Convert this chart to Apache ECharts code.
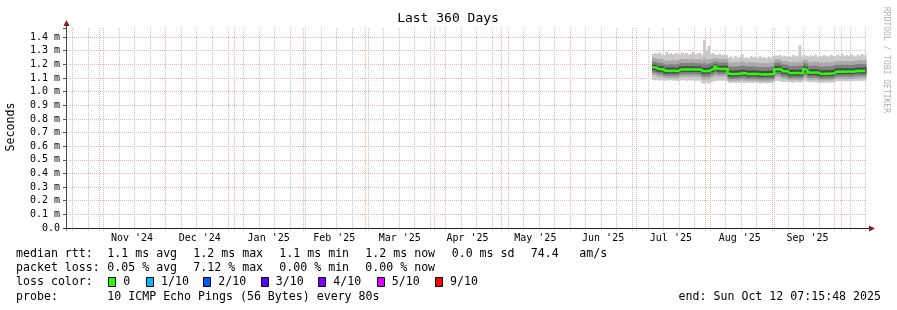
<!DOCTYPE html>
<html><head><meta charset="utf-8">
<script src="https://cdn.jsdelivr.net/npm/echarts@6/dist/echarts.min.js"></script>
<style>html,body{margin:0;padding:0;background:#fff}#c{width:897px;height:310px}</style>
</head><body><div id="c"></div>
<script>
// ---------------- data ----------------
const title = 'Last 360 Days';
const yTitle = 'Seconds';
const endTime = '2025-10-12T07:15:48Z';
const spanDays = 360;
const firstDataDay = '2025-07-08';
const firstSunday = '2024-10-20';
const monthStarts = ['2024-11-01','2024-12-01','2025-01-01','2025-02-01','2025-03-01','2025-04-01',
  '2025-05-01','2025-06-01','2025-07-01','2025-08-01','2025-09-01','2025-10-01'];
const monthLabels = ["Nov '24","Dec '24","Jan '25","Feb '25","Mar '25","Apr '25",
  "May '25","Jun '25","Jul '25","Aug '25","Sep '25"];
const yMax = 1.4667;
const yStep = 0.1;

// daily values in ms, from firstDataDay on
const median = [1.178,1.176, 1.166,1.165,1.165, 1.154,1.153,1.152,1.153,1.154,1.152,1.153,
  1.162,1.163,1.163,1.164,1.162,1.163,1.164,1.163,1.162,1.163, 1.151,1.150,1.151,1.152,
  1.162,1.165,1.182, 1.167,1.166,1.166,1.167,1.166,
  1.131,1.130,1.129,1.130,1.131,1.132,1.137,1.135,1.130,1.129,1.130,1.131,1.130,1.129,1.127,1.126,1.127,1.126,1.127,1.128,1.130,
  1.165,1.166,1.164, 1.150,1.149,1.150, 1.136,1.135,1.136,1.137,1.136,1.135,1.136,
  1.166,1.158, 1.140,1.139,1.140,1.141,1.139, 1.131,1.130,1.132,1.133,1.132,1.133,1.134,
  1.146,1.147,1.146,1.147,1.146,1.148,1.147,1.146,1.147, 1.151,1.152,1.153,1.152,1.153,1.154];
const pingMax = [1.275,1.282,1.278,1.286,1.270,1.268,1.290,1.276,1.281,1.272,1.284,1.279,1.270,1.288,1.275,
  1.283,1.271,1.279,1.292,1.274,1.281,1.286,1.270,1.380,1.300,1.335,1.276,1.281,1.272,
  1.270,1.278,1.266,1.273,1.268,
  1.250,1.258,1.244,1.262,1.248,1.255,1.276,1.247,1.252,1.243,1.260,1.251,1.256,1.246,1.262,1.249,1.254,1.244,1.258,1.250,1.262,
  1.266,1.262,1.270,1.258,1.264,1.256,
  1.262,1.255,1.268,1.259,1.264,1.340,1.258,1.270,1.262,1.257,1.266,1.260,1.272,1.255,1.263,1.258,1.268,1.261,
  1.256,1.270,1.264,1.259,1.272,1.263,1.278,1.260,1.268,1.262,1.274,1.265,1.258,1.271,1.264,1.276,1.266,1.280];
const hi3 = [1.248,1.246, 1.240,1.238,1.239, 1.228,1.226,1.229,1.227,1.230,1.226,1.228,
  1.235,1.238,1.236,1.239,1.235,1.237,1.240,1.236,1.234,1.238, 1.232,1.250,1.228,1.240,
  1.236,1.240,1.246, 1.240,1.238,1.239,1.241,1.237,
  1.215,1.213,1.211,1.216,1.214,1.217,1.222,1.218,1.213,1.212,1.215,1.216,1.212,1.211,1.209,1.208,1.211,1.208,1.210,1.212,1.214,
  1.236,1.238,1.235, 1.226,1.224,1.225, 1.216,1.213,1.217,1.218,1.215,1.222,1.216,
  1.236,1.232, 1.218,1.216,1.219,1.220,1.217, 1.213,1.211,1.214,1.215,1.213,1.216,1.217,
  1.222,1.225,1.222,1.226,1.223,1.226,1.224,1.222,1.225, 1.227,1.229,1.230,1.228,1.231,1.232];
const hi2 = [1.222,1.220, 1.212,1.210,1.211, 1.200,1.198,1.199,1.201,1.200,1.198,1.200,
  1.208,1.210,1.209,1.211,1.208,1.210,1.211,1.209,1.207,1.210, 1.200,1.212,1.198,1.205,
  1.210,1.214,1.222, 1.214,1.212,1.213,1.215,1.212,
  1.185,1.183,1.182,1.185,1.186,1.187,1.192,1.189,1.184,1.183,1.185,1.186,1.183,1.182,1.180,1.179,1.181,1.179,1.180,1.182,1.184,
  1.212,1.214,1.211, 1.200,1.198,1.199, 1.188,1.186,1.188,1.189,1.187,1.192,1.188,
  1.212,1.206, 1.190,1.189,1.191,1.192,1.189, 1.184,1.182,1.185,1.186,1.184,1.186,1.187,
  1.195,1.197,1.195,1.198,1.196,1.198,1.197,1.195,1.197, 1.200,1.202,1.203,1.201,1.203,1.204];
const hi1 = [1.198,1.196, 1.188,1.187,1.188, 1.176,1.175,1.175,1.176,1.177,1.175,1.176,
  1.185,1.186,1.185,1.187,1.185,1.186,1.187,1.185,1.184,1.186, 1.175,1.176,1.174,1.176,
  1.186,1.190,1.200, 1.190,1.189,1.190,1.191,1.189,
  1.156,1.155,1.154,1.156,1.157,1.158,1.162,1.160,1.156,1.155,1.156,1.157,1.155,1.154,1.152,1.151,1.153,1.151,1.152,1.153,1.155,
  1.188,1.189,1.187, 1.174,1.173,1.174, 1.161,1.160,1.161,1.162,1.161,1.160,1.161,
  1.188,1.182, 1.164,1.163,1.164,1.165,1.163, 1.156,1.155,1.157,1.158,1.157,1.158,1.159,
  1.170,1.171,1.170,1.171,1.170,1.172,1.171,1.170,1.171, 1.175,1.176,1.177,1.176,1.177,1.178];
const lo1 = [1.158,1.156, 1.146,1.145,1.146, 1.134,1.133,1.132,1.133,1.134,1.132,1.133,
  1.143,1.144,1.143,1.145,1.143,1.144,1.145,1.144,1.143,1.144, 1.131,1.129,1.131,1.132,
  1.142,1.145,1.160, 1.147,1.146,1.146,1.147,1.146,
  1.112,1.111,1.110,1.111,1.112,1.113,1.118,1.116,1.111,1.110,1.111,1.112,1.111,1.110,1.108,1.107,1.108,1.107,1.108,1.109,1.111,
  1.145,1.146,1.144, 1.130,1.129,1.130, 1.117,1.116,1.117,1.118,1.117,1.116,1.117,
  1.146,1.138, 1.120,1.119,1.120,1.121,1.119, 1.112,1.111,1.113,1.114,1.113,1.114,1.115,
  1.127,1.128,1.127,1.128,1.127,1.129,1.128,1.127,1.128, 1.132,1.133,1.134,1.133,1.134,1.135];
const lo2 = [1.140,1.139, 1.129,1.128,1.129, 1.117,1.116,1.115,1.116,1.117,1.115,1.116,
  1.126,1.127,1.126,1.128,1.126,1.127,1.128,1.127,1.126,1.127, 1.112,1.108,1.113,1.110,
  1.122,1.126,1.140, 1.130,1.129,1.129,1.130,1.129,
  1.095,1.094,1.093,1.094,1.095,1.096,1.100,1.098,1.094,1.093,1.094,1.095,1.094,1.093,1.091,1.090,1.091,1.090,1.091,1.092,1.094,
  1.126,1.128,1.125, 1.112,1.110,1.112, 1.100,1.099,1.100,1.101,1.100,1.099,1.100,
  1.126,1.120, 1.103,1.102,1.103,1.104,1.102, 1.095,1.094,1.096,1.097,1.096,1.097,1.098,
  1.110,1.111,1.110,1.111,1.110,1.112,1.111,1.110,1.111, 1.115,1.116,1.117,1.116,1.117,1.118];
const lo3 = [1.122,1.120, 1.111,1.110,1.111, 1.100,1.099,1.098,1.099,1.100,1.098,1.099,
  1.108,1.109,1.108,1.110,1.108,1.109,1.110,1.109,1.108,1.109, 1.092,1.086,1.094,1.089,
  1.102,1.106,1.118, 1.111,1.110,1.110,1.111,1.110,
  1.080,1.079,1.078,1.079,1.080,1.081,1.084,1.082,1.079,1.078,1.079,1.080,1.079,1.078,1.076,1.075,1.076,1.075,1.076,1.077,1.079,
  1.106,1.108,1.105, 1.094,1.092,1.094, 1.085,1.084,1.085,1.086,1.085,1.084,1.085,
  1.104,1.099, 1.088,1.087,1.088,1.089,1.087, 1.081,1.080,1.082,1.083,1.082,1.083,1.084,
  1.093,1.094,1.093,1.094,1.093,1.095,1.094,1.093,1.094, 1.097,1.098,1.099,1.098,1.099,1.100];
const pingMin = [1.085,1.082,1.086,1.080,1.084,1.079,1.083,1.081,1.086,1.080,1.083,1.078,1.084,1.082,1.085,
  1.080,1.083,1.081,1.084,1.079,1.082,1.080,1.064,1.058,1.066,1.060,1.070,1.074,1.078,1.080,1.083,1.079,1.082,1.080,
  1.066,1.063,1.068,1.062,1.065,1.064,1.067,1.061,1.066,1.063,1.065,1.062,1.067,1.064,1.060,1.063,1.065,1.061,1.064,1.062,1.066,
  1.078,1.081,1.076,1.072,1.070,1.074,
  1.068,1.071,1.066,1.069,1.072,1.067,1.070,1.078,1.074,1.070,1.068,1.072,1.069,1.067,1.066,1.064,1.068,1.065,
  1.067,1.066,1.069,1.074,1.077,1.075,1.078,1.076,1.074,1.077,1.075,1.078,1.079,1.081,1.078,1.080,1.079,1.082];
// [day index, lost pings out of 10]
const lossEvents = [[8,1],[22,1],[59,1],[92,1]];

const lossLegend = ['0','1/10','2/10','3/10','4/10','5/10','9/10'];
const lossColors = ['#26ff00','#00b8ff','#0059ff','#5e00ff','#7e00ff','#dd00ff','#ff0000'];
const lossLevels = [0,1,2,3,4,5,9];
const rttStats = ['1.1 ms avg','1.2 ms max','1.1 ms min','1.2 ms now','0.0 ms sd','74.4','am/s'];
const lossStats = ['0.05 % avg','7.12 % max','0.00 % min','0.00 % now'];
const probeText = '10 ICMP Echo Pings (56 Bytes) every 80s';
const endText = 'end: Sun Oct 12 07:15:48 2025';

// ---------------- build ----------------
const DAY = 86400000;
const tEnd = Date.parse(endTime);
const tStart = tEnd - spanDays * DAY;
const t0 = Date.parse(firstDataDay + 'T00:00:00Z');
const MONO = '"DejaVu Sans Mono", monospace';
const MGRID = '#efb3b3';
const GRID = '#c4c4c4';

function band(lo, hi) {
  return lo.map((v, i) => [t0 + i * DAY, Math.min(t0 + (i + 1) * DAY, tEnd), v, hi[i]]);
}
function bandSeries(lo, hi, color) {
  return {
    type: 'custom', data: band(lo, hi), encode: {x: [0, 1], y: [2, 3]}, silent: true,
    renderItem: (p, api) => {
      const a = api.coord([api.value(0), api.value(3)]);
      const b = api.coord([api.value(1), api.value(2)]);
      return {type: 'rect', shape: {x: a[0], y: a[1], width: b[0] - a[0] + 0.45, height: b[1] - a[1]},
        style: {fill: color}};
    }
  };
}
const weekLines = [];
for (let t = Date.parse(firstSunday + 'T00:00:00Z'); t <= tEnd; t += 7 * DAY) weekLines.push([t]);
const monthLines = monthStarts.map(s => [Date.parse(s + 'T00:00:00Z')]);
const labelPos = monthLabels.map((l, i) => [(monthLines[i][0] + monthLines[i + 1][0]) / 2, i]);

function vlineSeries(data, color) {
  return {
    type: 'custom', data: data, silent: true, encode: {x: 0},
    renderItem: (p, api) => {
      const b = api.coord([api.value(0), 0]);
      const t = api.coord([api.value(0), yMax]);
      const x = Math.round(b[0]) + 0.5;
      return {type: 'line', shape: {x1: x, y1: Math.round(b[1]) + 3, x2: x, y2: t[1]},
        style: {stroke: color, lineWidth: 1, lineDash: [1, 1]}};
    }
  };
}

const medData = median.map((v, i) => [t0 + i * DAY, v]);
medData.push([tEnd, median[median.length - 1]]);
const lossData = lossEvents.map(e => [t0 + e[0] * DAY, Math.min(t0 + (e[0] + 1) * DAY, tEnd), median[e[0]], e[1]]);

const graphics = [];
graphics.push({type: 'text', x: 448, y: 19, style: {text: title, fontSize: 13, fontFamily: MONO, fill: '#000', align: 'center', verticalAlign: 'middle'}});
graphics.push({type: 'text', x: 11, y: 127, rotation: Math.PI / 2, style: {text: yTitle, fontSize: 11.6, fontFamily: MONO, fill: '#000', align: 'center', verticalAlign: 'middle'}});
graphics.push({type: 'text', x: 886, y: 60, rotation: -Math.PI / 2, style: {text: 'RRDTOOL / TOBI OETIKER', fontSize: 8, fontFamily: MONO, fill: '#b0b0b0', align: 'center', verticalAlign: 'middle'}});
function txt(s, x, y, align) {
  graphics.push({type: 'text', x: x, y: y, style: {text: s, fontSize: 11.6, fontFamily: MONO, fill: '#000', align: align || 'left', verticalAlign: 'middle'}});
}
const rows = [254, 268, 282, 296.5];
txt('median rtt:', 16, rows[0]);
const rttX = [107.3, 193.3, 279.3, 365.3, 451.7, 530.7, 579.3];
rttStats.forEach((s, i) => txt(s, rttX[i], rows[0]));
txt('packet loss:', 16, rows[1]);
lossStats.forEach((s, i) => txt(s, rttX[i], rows[1]));
txt('loss color:', 16, rows[2]);
const boxX = [108.3, 146, 203.3, 260.7, 318.3, 376.7, 435];
lossLegend.forEach((s, i) => {
  graphics.push({type: 'rect', shape: {x: Math.round(boxX[i]) + 0.5, y: 277.5, width: 7, height: 9},
    style: {fill: lossColors[i], stroke: '#000', lineWidth: 1}});
  txt(s, boxX[i] + 15, rows[2]);
});
txt('probe:', 16, rows[3]);
txt(probeText, 107.3, rows[3]);
txt(endText, 881, rows[3], 'right');

const option = {
  animation: false,
  backgroundColor: '#fff',
  grid: {left: 66, right: 31, top: 28, bottom: 82, containLabel: false},
  xAxis: {type: 'value', min: tStart, max: tEnd, show: false},
  yAxis: {
    type: 'value', min: 0, max: yMax, interval: yStep,
    axisLine: {show: false},
    axisTick: {show: true, length: 3, lineStyle: {color: '#555'}},
    axisLabel: {
      margin: 6, fontSize: 10, fontFamily: MONO, color: '#000',
      formatter: v => {
        const k = Math.round(v / yStep);
        if (Math.abs(v / yStep - k) > 1e-6) return '';
        return k === 0 ? '0.0' : (k * yStep).toFixed(1) + ' m';
      }
    },
    splitLine: {show: true, showMinLine: false, showMaxLine: false,
      lineStyle: {color: MGRID, width: 1, type: [1, 1]}}
  },
  graphic: graphics,
  series: [
    vlineSeries(weekLines, GRID),
    vlineSeries(monthLines, MGRID),
    bandSeries(pingMin, pingMax, '#c9c9c9'),
    bandSeries(lo3, hi3, '#aaaaaa'),
    bandSeries(lo2, hi2, '#808080'),
    bandSeries(lo1, hi1, '#4a4a4a'),
    {type: 'line', data: medData, step: 'end', symbol: 'none', silent: true,
      lineStyle: {color: lossColors[0], width: 2.5}},
    {type: 'custom', data: lossData, silent: true, encode: {x: [0, 1], y: 2},
      renderItem: (p, api) => {
        const a = api.coord([api.value(0), api.value(2)]);
        const b = api.coord([api.value(1), api.value(2)]);
        const c = lossColors[Math.max(0, lossLevels.indexOf(api.value(3)))];
        return {type: 'rect', shape: {x: a[0], y: a[1] - 1.5, width: Math.max(1.5, (b[0] - a[0]) * 0.6), height: 3}, style: {fill: c}};
      }},
    {type: 'custom', data: labelPos, silent: true, encode: {x: 0},
      renderItem: (p, api) => {
        const a = api.coord([api.value(0), 0]);
        return {type: 'text', x: a[0], y: a[1] + 10.5,
          style: {text: monthLabels[api.value(1)], fontSize: 10, fontFamily: MONO, fill: '#000', align: 'center', verticalAlign: 'middle'}};
      }},
    {type: 'custom', data: [[tStart]], silent: true, encode: {x: 0},
      renderItem: (p, api) => {
        const o = api.coord([tStart, 0]);
        const e = api.coord([tEnd, 0]);
        const t = api.coord([tStart, yMax]);
        const x0 = Math.round(o[0]) + 0.5, y0 = Math.round(o[1]) + 0.5, yt = Math.round(t[1]);
        const xe = Math.round(e[0]);
        const arrow = '#8b1c1c';
        return {type: 'group', children: [
          {type: 'line', shape: {x1: x0 - 3, y1: y0, x2: xe + 3, y2: y0}, style: {stroke: '#222', lineWidth: 1}},
          {type: 'line', shape: {x1: x0, y1: y0 + 2, x2: x0, y2: yt - 2}, style: {stroke: '#444', lineWidth: 1}},
          {type: 'polygon', shape: {points: [[x0, yt - 8], [x0 - 3, yt - 2], [x0 + 3, yt - 2]]}, style: {fill: arrow}},
          {type: 'polygon', shape: {points: [[xe + 9, y0], [xe + 3, y0 - 3], [xe + 3, y0 + 3]]}, style: {fill: arrow}}
        ]};
      }}
  ]
};
const chart = echarts.init(document.getElementById('c'), null, {renderer: 'canvas'});
chart.setOption(option);
</script>
</body></html>
